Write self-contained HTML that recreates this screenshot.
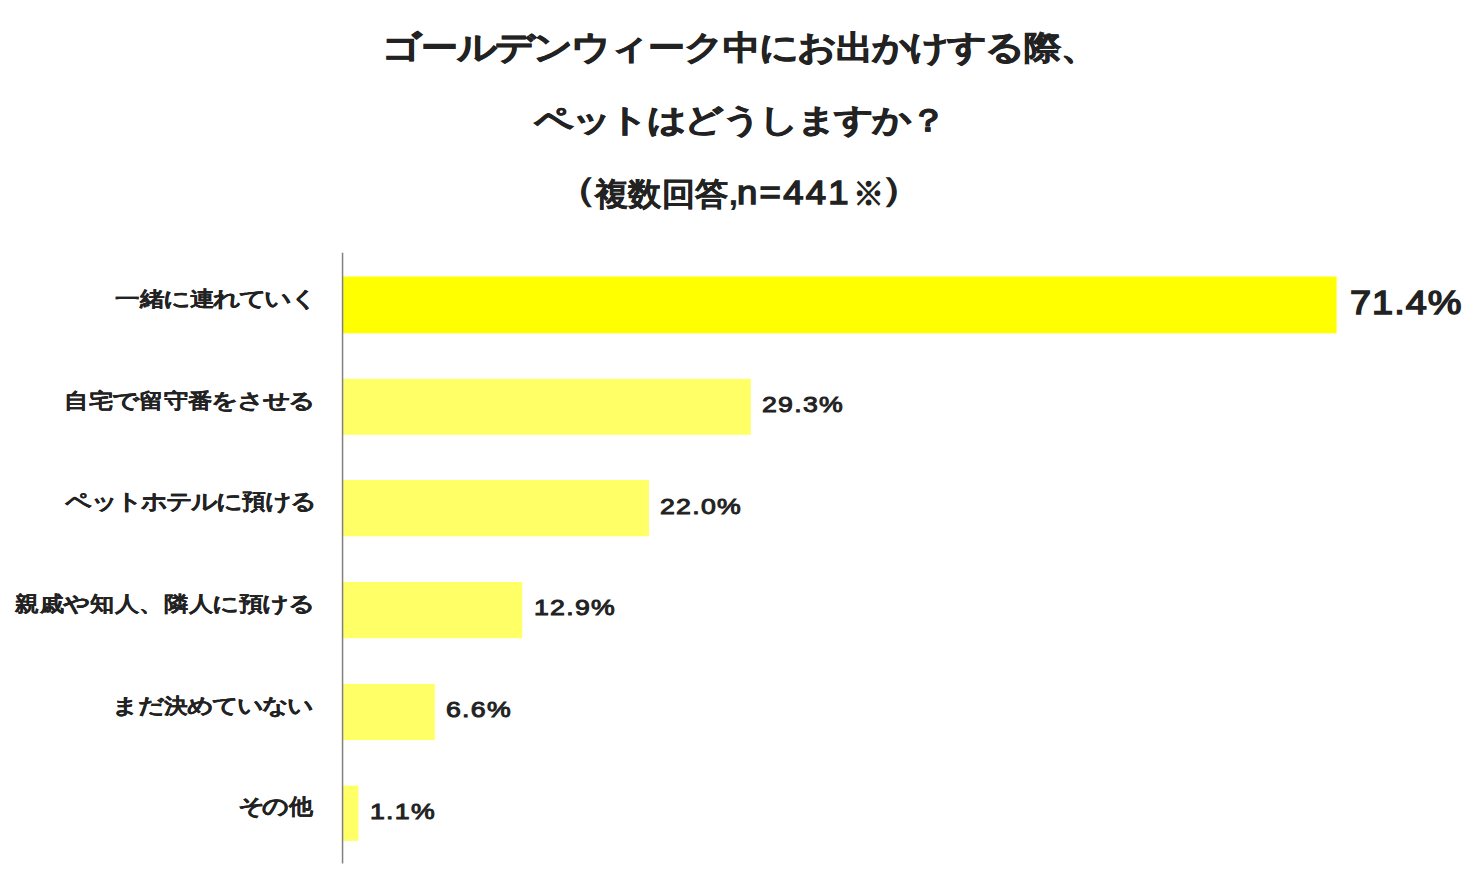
<!DOCTYPE html>
<html lang="ja">
<head>
<meta charset="utf-8">
<style>
html,body{margin:0;padding:0;background:#fff;}
body{width:1478px;height:888px;position:relative;overflow:hidden;font-family:"Liberation Sans",sans-serif;color:#222;}
.t{position:absolute;white-space:nowrap;font-weight:bold;line-height:1;transform-origin:0 0;}
.chart{position:absolute;left:0;top:0;}
.k{display:inline-block;transform:scale(var(--kx,1.12),var(--ky,1.02));transform-origin:50% 60%;}
</style>
</head>
<body>
<svg class="chart" width="1478" height="888" viewBox="0 0 1478 888">
<rect x="342.5" y="276.5" width="994.1" height="56.8" fill="#ffff00"/>
<rect x="342.5" y="378.8" width="408.3" height="56.0" fill="#ffff66"/>
<rect x="342.5" y="480.0" width="306.5" height="56.3" fill="#ffff66"/>
<rect x="342.5" y="582.0" width="179.7" height="56.2" fill="#ffff66"/>
<rect x="342.5" y="683.9" width="92.3" height="56.2" fill="#ffff66"/>
<rect x="342.5" y="785.6" width="15.9" height="55.3" fill="#ffff66"/>
<rect class="axis" x="341.8" y="252.7" width="1.5" height="610.8" fill="#808080"/>
</svg>
<div class="t" id="l1" style="left:382.59px;top:31.35px;font-size:37px;transform:scale(0.9989,0.8903);--kx:1.05;-webkit-text-stroke:0.8px #222;"><span class="k">ゴ</span>ー<span class="k">ル</span><span class="k">デ</span><span class="k">ン</span><span class="k">ウ</span><span class="k">ィ</span>ー<span class="k">ク</span>中<span class="k">に</span><span class="k">お</span>出<span class="k">か</span><span class="k">け</span><span class="k">す</span><span class="k">る</span>際、</div>
<div class="t" id="l2" style="left:534.59px;top:105.46px;font-size:37px;transform:scale(0.9876,0.8371);--kx:1.05;-webkit-text-stroke:0.8px #222;"><span class="k">ペ</span><span class="k">ッ</span><span class="k">ト</span><span class="k">は</span><span class="k">ど</span><span class="k">う</span><span class="k">し</span><span class="k">ま</span><span class="k">す</span><span class="k">か</span>？</div>
<div class="t" id="l3a" style="left:553.29px;top:171.65px;font-size:32px;transform:scale(1.3855,1.0635);">（</div>
<div class="t" id="l3b" style="left:595.09px;top:177.79px;font-size:32px;transform:scale(1.0442,1.0073);-webkit-text-stroke:0.2px #222;">複数回答,</div>
<div class="t" id="l3c" style="left:736.60px;top:176.19px;font-size:32px;transform:scale(1.1399,1.0208);letter-spacing:2.0px;font-weight:normal;-webkit-text-stroke:1.4px #222;">n=441</div>
<div class="t" id="l3d" style="left:852.63px;top:176.52px;font-size:32px;transform:scale(0.9784,1.0355);">※</div>
<div class="t" id="l3e" style="left:880.41px;top:172.19px;font-size:32px;transform:scale(1.4156,1.0571);">）</div>
<div class="t" id="c1" style="left:114.81px;top:288.79px;font-size:24.5px;transform:scale(0.9850,0.8405);-webkit-text-stroke:0.1px #222;">一緒<span class="k">に</span>連<span class="k">れ</span><span class="k">て</span><span class="k">い</span><span class="k">く</span></div>
<div class="t" id="c2" style="left:64.08px;top:390.79px;font-size:24.5px;transform:scale(0.9865,0.8503);-webkit-text-stroke:0.1px #222;">自宅<span class="k">で</span>留守番<span class="k">を</span><span class="k">さ</span><span class="k">せ</span><span class="k">る</span></div>
<div class="t" id="c3" style="left:66.54px;top:491.33px;font-size:24.5px;transform:scale(0.9623,0.8908);-webkit-text-stroke:0.1px #222;"><span class="k">ペ</span><span class="k">ッ</span><span class="k">ト</span><span class="k">ホ</span><span class="k">テ</span><span class="k">ル</span><span class="k">に</span>預<span class="k">け</span><span class="k">る</span></div>
<div class="t" id="c4" style="left:14.50px;top:594.35px;font-size:24.5px;transform:scale(0.9880,0.8575);-webkit-text-stroke:0.1px #222;">親戚<span class="k">や</span>知人、隣人<span class="k">に</span>預<span class="k">け</span><span class="k">る</span></div>
<div class="t" id="c5" style="left:113.84px;top:696.08px;font-size:24.5px;transform:scale(0.9644,0.8561);-webkit-text-stroke:0.1px #222;"><span class="k">ま</span><span class="k">だ</span>決<span class="k">め</span><span class="k">て</span><span class="k">い</span><span class="k">な</span><span class="k">い</span></div>
<div class="t" id="c6" style="left:238.76px;top:796.16px;font-size:24.5px;transform:scale(0.9565,0.8781);-webkit-text-stroke:0.1px #222;"><span class="k">そ</span><span class="k">の</span>他</div>
<div class="t" id="v1" style="left:1350.14px;top:286.03px;font-size:37px;transform:scale(1.0241,0.9186);letter-spacing:1.0px;font-weight:normal;-webkit-text-stroke:1.6px #222;">71.4%</div>
<div class="t" id="v2" style="left:762.19px;top:393.59px;font-size:23px;transform:scale(1.1600,0.9550);letter-spacing:1.1px;font-weight:normal;-webkit-text-stroke:1.0px #222;">29.3%</div>
<div class="t" id="v3" style="left:659.88px;top:495.98px;font-size:23px;transform:scale(1.1600,0.9550);letter-spacing:1.1px;font-weight:normal;-webkit-text-stroke:1.0px #222;">22.0%</div>
<div class="t" id="v4" style="left:534.34px;top:596.95px;font-size:23px;transform:scale(1.1600,0.9550);letter-spacing:1.1px;font-weight:normal;-webkit-text-stroke:1.0px #222;">12.9%</div>
<div class="t" id="v5" style="left:445.91px;top:699.25px;font-size:23px;transform:scale(1.1600,0.9550);letter-spacing:1.1px;font-weight:normal;-webkit-text-stroke:1.0px #222;">6.6%</div>
<div class="t" id="v6" style="left:370.00px;top:801.26px;font-size:23px;transform:scale(1.1600,0.9550);letter-spacing:1.1px;font-weight:normal;-webkit-text-stroke:1.0px #222;">1.1%</div>
</body>
</html>
